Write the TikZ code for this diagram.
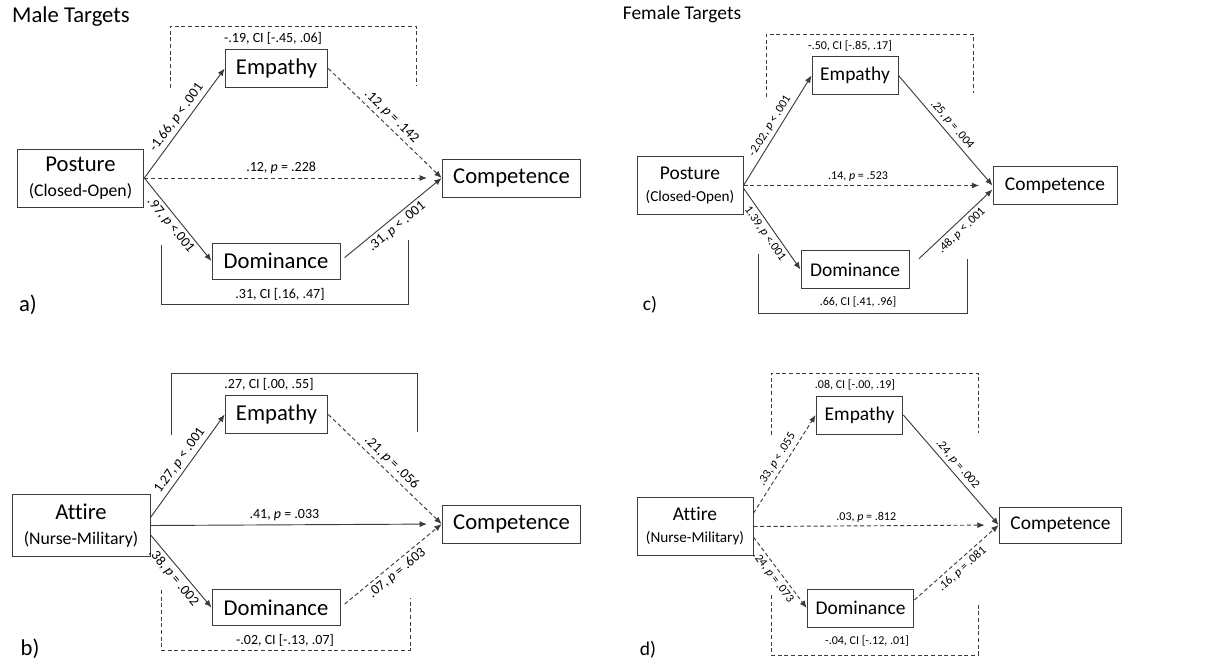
\documentclass[tikz,border=0pt]{standalone}
\usepackage{fontspec}
\setmainfont{Carlito}[Ligatures=NoCommon]
\usetikzlibrary{arrows.meta}
\definecolor{line_gray}{HTML}{3c3c3c}
\newcommand{\subfontA}{\fontsize{13.3}{16}\selectfont}
\newcommand{\subfontC}{\fontsize{11.4}{14}\selectfont}

\begin{document}
\begin{tikzpicture}[x=0.75pt, y=-0.75pt,
    box/.style={draw=line_gray, line width=0.75pt, inner sep=0pt, align=center},
    varA/.style={box, font=\fontsize{17}{19}\selectfont},
    varC/.style={box, font=\fontsize{14.6}{16.5}\selectfont},
    coefA/.style={font=\fontsize{10.5}{12}\selectfont, inner sep=2.5pt},
    coefC/.style={font=\fontsize{9}{11}\selectfont, inner sep=2.5pt},
    head/.style={font=\fontsize{17}{19}\selectfont},
    path/.style={draw=line_gray, line width=0.7pt, -{Latex[length=5.5pt,width=4.5pt]}},
    ns/.style={dash pattern=on 3pt off 2pt},
    brace/.style={draw=line_gray, line width=0.7pt}]
\useasboundingbox (0,0) rectangle (1221,662);

% a) male targets, posture
\node[head] (titleA) at (71,17) {Male Targets};
\node[head] (tagA) at (28,305) {a)};
\node[varA, minimum width=95pt, minimum height=43.5pt] (postA) at (80.5,178) {Posture\\{\subfontA (Closed-Open)}};
\node[varA, minimum width=77pt, minimum height=28pt] (empA) at (276.5,68.5) {Empathy};
\node[varA, minimum width=96pt, minimum height=27pt] (domA) at (276,261) {Dominance};
\node[varA, minimum width=104pt, minimum height=28.5pt] (compA) at (511.5,178) {Competence};
\draw[path] (postA.east) -- (empA.west) node[coefA, sloped, above, pos=.5] {-1.66, \textit{p} < .001};
\draw[path] (postA.east) -- (domA.west) node[coefA, sloped, below, pos=.5] {.97, \textit{p} <.001};
\draw[path, ns, shorten >=11pt] (postA.east) -- (compA.west) node[coefA, above, pos=.46] {.12, \textit{p} = .228};
\draw[path, ns] (empA.east) -- (compA.west) node[coefA, sloped, above, pos=.5] {.12, \textit{p} = .142};
\draw[path, shorten <=4pt] (domA.east) -- (compA.west) node[coefA, sloped, below, pos=.5] {.31, \textit{p} < .001};
\draw[brace, ns] (170,88) -- (170,26) -- (416,26) -- (416,86);
\node[coefA] (ciEmpA) at (273,38) {-.19, CI [-.45, .06]};
\draw[brace] (161,245) -- (161,304) -- (408,304) -- (408,240);
\node[coefA] (ciDomA) at (280,294) {.31, CI [.16, .47]};

% b) male targets, attire
\node[head] (tagB) at (30,649) {b)};
\node[varA, minimum width=103.5pt, minimum height=46pt] (attB) at (81,525.5) {Attire\\{\subfontA (Nurse-Military)}};
\node[varA, minimum width=77pt, minimum height=28pt] (empB) at (276.5,414.5) {Empathy};
\node[varA, minimum width=96pt, minimum height=27pt] (domB) at (276,607.5) {Dominance};
\node[varA, minimum width=104pt, minimum height=28.5pt] (compB) at (511.5,524) {Competence};
\draw[path] ([yshift=6pt]attB.east) -- (empB.west) node[coefA, sloped, above, pos=.5] {1.27, \textit{p} < .001};
\draw[path] ([yshift=-7pt]attB.east) -- (domB.west) node[coefA, sloped, below, pos=.5] {.38, \textit{p} = .002};
\draw[path, shorten >=11pt] (attB.east) -- (compB.west) node[coefA, above, pos=.46] {.41, \textit{p} = .033};
\draw[path, ns] (empB.east) -- (compB.west) node[coefA, sloped, above, pos=.5] {.21, \textit{p} = .056};
\draw[path, ns, shorten <=4pt] (domB.east) -- (compB.west) node[coefA, sloped, below, pos=.5] {.07, \textit{p} = .603};
\draw[brace] (171,435) -- (171,373) -- (417,373) -- (417,432);
\node[coefA] (ciEmpB) at (269,384) {.27, CI [.00, .55]};
\draw[brace, ns] (161,590) -- (161,650) -- (410,650) -- (410,598);
\node[coefA] (ciDomB) at (285,640) {-.02, CI [-.13, .07]};

% c) female targets, posture
\node[head, font=\fontsize{14.6}{16.5}\selectfont] (titleC) at (682,14) {Female Targets};
\node[head, font=\fontsize{14.6}{16.5}\selectfont] (tagC) at (650,305) {c)};
\node[varC, minimum width=79.5pt, minimum height=44pt] (postC) at (690,185.5) {Posture\\{\subfontC (Closed-Open)}};
\node[varC, minimum width=64.5pt, minimum height=28pt] (empC) at (855,75.5) {Empathy};
\node[varC, minimum width=81pt, minimum height=28pt] (domC) at (855,269.5) {Dominance};
\node[varC, minimum width=93pt, minimum height=28pt] (compC) at (1055,185.5) {Competence};
\draw[path] (postC.east) -- (empC.west) node[coefC, sloped, above, pos=.5] {-2.02, \textit{p} < .001};
\draw[path] ([yshift=-2pt]postC.east) -- (domC.west) node[coefC, sloped, below, pos=.5] {1.39, \textit{p} <.001};
\draw[path, ns, shorten >=10pt] (postC.east) -- (compC.west) node[coefC, above, pos=.46] {.14, \textit{p} = .523};
\draw[path] (empC.east) -- (compC.west) node[coefC, sloped, above, pos=.5] {.25, \textit{p} = .004};
\draw[path] ([xshift=7pt,yshift=8pt]domC.east) -- ([yshift=-3pt]compC.west) node[coefC, sloped, below, pos=.5] {.48, \textit{p} < .001};
\draw[brace, ns] (766,97) -- (766,34) -- (973,34) -- (973,93);
\node[coefC] (ciEmpC) at (850,46) {-.50, CI [-.85, .17]};
\draw[brace] (758,254) -- (758,313) -- (967,313) -- (967,259);
\node[coefC] (ciDomC) at (858,302) {.66, CI [.41, .96]};

% d) female targets, attire
\node[head, font=\fontsize{14.6}{16.5}\selectfont] (tagD) at (648,650) {d)};
\node[varC, minimum width=87pt, minimum height=44pt] (attD) at (695,526.5) {Attire\\{\subfontC (Nurse-Military)}};
\node[varC, minimum width=65pt, minimum height=28.5pt] (empD) at (859.5,415) {Empathy};
\node[varC, minimum width=80pt, minimum height=28.5pt] (domD) at (860.5,608) {Dominance};
\node[varC, minimum width=92pt, minimum height=27pt] (compD) at (1060.5,525) {Competence};
\draw[path, ns] ([yshift=10pt]attD.east) -- (empD.west) node[coefC, sloped, above, pos=.5] {.33, \textit{p} < .055};
\draw[path, ns] ([yshift=-8pt]attD.east) -- (domD.west) node[coefC, sloped, below, pos=.5] {.24, \textit{p} = .073};
\draw[path, ns, shorten >=10.5pt] (attD.east) -- (compD.west) node[coefC, above, pos=.46] {.03, \textit{p} = .812};
\draw[path] (empD.east) -- (compD.west) node[coefC, sloped, above, pos=.5] {.24, \textit{p} = .002};
\draw[path, ns] ([yshift=6pt]domD.east) -- (compD.west) node[coefC, sloped, below, pos=.5] {.16, \textit{p} = .081};
\draw[brace, ns] (771,435) -- (771,373) -- (978,373) -- (978,433);
\node[coefC] (ciEmpD) at (855,385) {.08, CI [-.00, .19]};
\draw[brace, ns] (771,595) -- (771,655) -- (978,655) -- (978,603);
\node[coefC] (ciDomD) at (867,641) {-.04, CI [-.12, .01]};
\end{tikzpicture}
\end{document}
